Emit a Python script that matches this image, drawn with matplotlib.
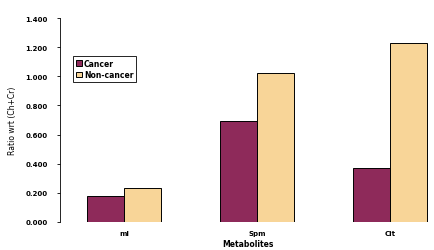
import matplotlib
matplotlib.use("Agg")
import matplotlib.pyplot as plt
import numpy as np

# data
metabolites = ["mI", "Spm", "Cit"]
cancer = [0.18, 0.69, 0.37]
non_cancer = [0.23, 1.02, 1.23]
yticks = [0.0, 0.2, 0.4, 0.6, 0.8, 1.0, 1.2, 1.4]

fig = plt.figure(figsize=(4.35, 2.51), dpi=100)
ax = fig.add_axes([0.138, 0.112, 0.862, 0.812])

x = np.arange(len(metabolites))
w = 0.28
ax.bar(x - w / 2, cancer, w, color="#8E2A5A", edgecolor="black", linewidth=0.7, label="Cancer")
ax.bar(x + w / 2, non_cancer, w, color="#F8D598", edgecolor="black", linewidth=0.7, label="Non-cancer")

ax.set_xlim(-0.48, 2.34)
ax.set_ylim(0, 1.4)
ax.set_yticks(yticks)
ax.set_yticklabels(["{:.3f}".format(v) for v in yticks], fontsize=5, fontweight="bold")
ax.set_xticks(x)
ax.set_xticklabels(["ml", "Spm", "Cit"], fontsize=5, fontweight="bold")
ax.tick_params(axis="x", length=0, pad=6)
ax.tick_params(axis="y", length=2, width=0.6, pad=7)

for s in ["top", "right", "bottom"]:
    ax.spines[s].set_visible(False)
ax.spines["left"].set_linewidth(0.6)

ax.set_ylabel("Ratio wrt (Ch+Cr)", fontsize=5.5, labelpad=6)
ax.set_xlabel("Metabolites", fontsize=5.5, fontweight="bold", labelpad=2)

leg = ax.legend(loc="upper left", bbox_to_anchor=(0.025, 0.835),
                prop={"weight": "bold", "size": 5.5}, fancybox=False, framealpha=1,
                edgecolor="black", handlelength=0.7, handleheight=0.7,
                handletextpad=0.3, borderpad=0.4, labelspacing=0.3)
leg.get_frame().set_linewidth(0.6)

fig.savefig("out.png", dpi=100)
